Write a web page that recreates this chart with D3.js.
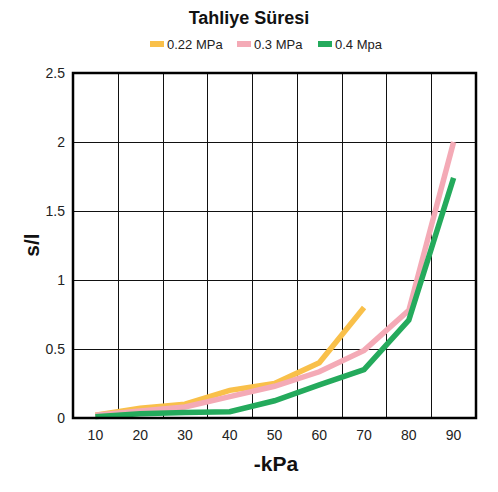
<!DOCTYPE html>
<html><head><meta charset="utf-8">
<script src="https://cdn.jsdelivr.net/npm/d3@7"></script>
<style>body{margin:0;background:#fff}svg{display:block}text{font-family:"Liberation Sans",Arial,sans-serif}</style>
</head><body><svg id="c" width="498" height="492"></svg>
<script>
const categories = ["10","20","30","40","50","60","70","80","90"];
const yTicks = [0,0.5,1,1.5,2,2.5];
const seriesNames = ["0.22 MPa","0.3 MPa","0.4 Mpa"];
const seriesColors = ["#F9C04A","#F4AAB6","#24AA5C"];
const s022 = [0.02,0.07,0.10,0.20,0.25,0.40,0.80];
const s03 = [0.02,0.05,0.08,0.155,0.23,0.335,0.49,0.78,2.0];
const s04 = [0.01,0.03,0.04,0.046,0.125,0.24,0.35,0.71,1.74];
const seriesValues = [s022,s03,s04];

const svg = d3.select("#c");
const L=73,R=476,T=73,B=418;
const xb = d3.scaleBand().domain(categories).range([L,R]).padding(0);
const x = d => xb(d)+xb.bandwidth()/2;
const y = d3.scaleLinear().domain([0,2.5]).range([B,T]);

// grid
const g = svg.append("g");
g.selectAll(".vg").data(categories.slice(1)).enter().append("line")
 .attr("x1",d=>Math.round(xb(d))+0.5).attr("x2",d=>Math.round(xb(d))+0.5)
 .attr("y1",T).attr("y2",B).attr("stroke","#111").attr("stroke-width",1);
g.selectAll(".hg").data(yTicks.slice(1,-1)).enter().append("line")
 .attr("x1",L).attr("x2",R).attr("y1",d=>Math.round(y(d))+0.5).attr("y2",d=>Math.round(y(d))+0.5)
 .attr("stroke","#111").attr("stroke-width",1);

// axes
const ya = d3.axisLeft(y).tickValues(yTicks).tickSize(0).tickPadding(8).tickFormat(d=>String(d));
svg.append("g").attr("transform",`translate(${L},0)`).call(ya)
 .call(a=>a.select(".domain").remove())
 .selectAll("text").attr("font-size",14).attr("fill","#222").attr("font-family","Liberation Sans, Arial, sans-serif");
const xa = d3.axisBottom(xb).tickSize(0).tickPadding(12);
svg.append("g").attr("transform",`translate(0,${B})`).call(xa)
 .call(a=>a.select(".domain").remove())
 .selectAll("text").attr("font-size",14).attr("fill","#222").attr("font-family","Liberation Sans, Arial, sans-serif");

// lines
const line = d3.line().x((d,i)=>x(categories[i])).y(d=>y(d));
seriesValues.forEach((vals,k)=>{
  svg.append("path").datum(vals).attr("d",line).attr("fill","none")
   .attr("stroke",seriesColors[k]).attr("stroke-width",5.5).attr("stroke-linejoin","miter");
});

// frame
svg.append("rect").attr("x",L).attr("y",T).attr("width",R-L).attr("height",B-T)
 .attr("fill","none").attr("stroke","#000").attr("stroke-width",2.5);

// title
svg.append("text").attr("x",249).attr("y",24).attr("text-anchor","middle")
 .attr("font-size",18).attr("font-weight","bold").attr("fill","#111").text("Tahliye Süresi");

// legend
const legX=[150,237,318];
seriesNames.forEach((n,k)=>{
  svg.append("rect").attr("x",legX[k]).attr("y",41).attr("width",14).attr("height",6).attr("fill",seriesColors[k]);
  svg.append("text").attr("x",legX[k]+17).attr("y",49).attr("font-size",13).attr("fill","#222").text(n);
});

// axis titles
svg.append("text").attr("transform","translate(39,245) rotate(-90)").attr("text-anchor","middle")
 .attr("font-size",21).attr("font-weight","bold").attr("fill","#111").text("s/l");
svg.append("text").attr("x",276).attr("y",471).attr("text-anchor","middle")
 .attr("font-size",21).attr("font-weight","bold").attr("fill","#111").text("-kPa");
</script></body></html>
